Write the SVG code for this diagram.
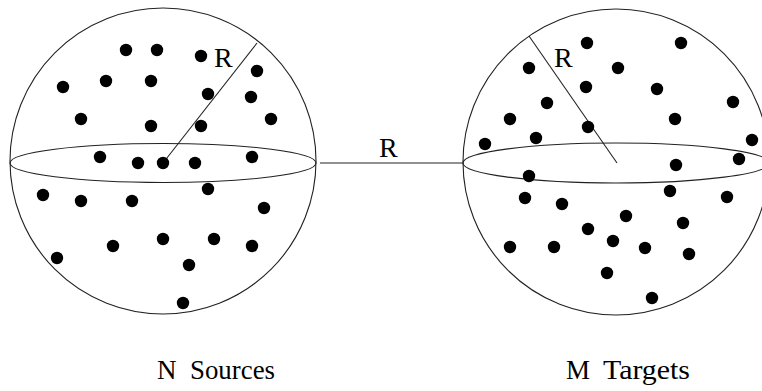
<svg xmlns="http://www.w3.org/2000/svg" width="762" height="391" viewBox="0 0 762 391">
<style>
.ln{fill:none;stroke:#222;stroke-width:1.1}
.d{fill:#000}
.t{font-family:"Liberation Serif","Times New Roman",serif;font-size:27px;fill:#000}
.r{font-family:"Liberation Serif","Times New Roman",serif;font-size:28px;fill:#000}
</style>
<defs><circle id="dot" r="6.2"/></defs>
<rect width="762" height="391" fill="#fff"/>
<g id="sources">
<circle class="ln" cx="163" cy="161" r="153"/>
<ellipse class="ln" cx="163" cy="163" rx="153" ry="19.5"/>
<line class="ln" x1="163" y1="163" x2="257" y2="43"/>
<text class="r" x="214" y="67">R</text>
<g class="d">
<use href="#dot" x="126" y="50"/><use href="#dot" x="157" y="50"/><use href="#dot" x="201" y="56"/>
<use href="#dot" x="63" y="87"/><use href="#dot" x="106" y="81"/><use href="#dot" x="151" y="81"/>
<use href="#dot" x="257" y="71"/><use href="#dot" x="208" y="94"/><use href="#dot" x="251" y="97"/>
<use href="#dot" x="81" y="119"/><use href="#dot" x="151" y="126"/><use href="#dot" x="201" y="126"/>
<use href="#dot" x="271" y="119"/><use href="#dot" x="100" y="157"/><use href="#dot" x="138" y="163"/>
<use href="#dot" x="163" y="163"/><use href="#dot" x="195" y="163"/><use href="#dot" x="252" y="157"/>
<use href="#dot" x="208" y="189"/><use href="#dot" x="43" y="195"/><use href="#dot" x="81" y="201"/>
<use href="#dot" x="132" y="201"/><use href="#dot" x="264" y="208"/><use href="#dot" x="113" y="246"/>
<use href="#dot" x="163" y="239"/><use href="#dot" x="214" y="239"/><use href="#dot" x="252" y="246"/>
<use href="#dot" x="57" y="258"/><use href="#dot" x="189" y="265"/><use href="#dot" x="183" y="303"/>
</g>
<text class="t" y="379"><tspan x="157">N</tspan><tspan x="190" textLength="85" lengthAdjust="spacingAndGlyphs">Sources</tspan></text>
</g>
<g id="targets">
<circle class="ln" cx="616" cy="162" r="153"/>
<ellipse class="ln" cx="616" cy="163" rx="153" ry="20"/>
<line class="ln" x1="617" y1="163" x2="529" y2="36"/>
<text class="r" x="554" y="67">R</text>
<g class="d">
<use href="#dot" x="587" y="43"/><use href="#dot" x="681" y="43"/><use href="#dot" x="529" y="68"/>
<use href="#dot" x="618" y="68"/><use href="#dot" x="586" y="87"/><use href="#dot" x="657" y="89"/>
<use href="#dot" x="733" y="102"/><use href="#dot" x="547" y="103"/><use href="#dot" x="510" y="119"/>
<use href="#dot" x="675" y="119"/><use href="#dot" x="588" y="127"/><use href="#dot" x="536" y="138"/>
<use href="#dot" x="485" y="144"/><use href="#dot" x="752" y="140"/><use href="#dot" x="739" y="159"/>
<use href="#dot" x="676" y="165"/><use href="#dot" x="529" y="176"/><use href="#dot" x="670" y="191"/>
<use href="#dot" x="525" y="198"/><use href="#dot" x="562" y="204"/><use href="#dot" x="727" y="197"/>
<use href="#dot" x="626" y="216"/><use href="#dot" x="683" y="223"/><use href="#dot" x="588" y="229"/>
<use href="#dot" x="510" y="247"/><use href="#dot" x="554" y="247"/><use href="#dot" x="613" y="241"/>
<use href="#dot" x="645" y="248"/><use href="#dot" x="689" y="254"/><use href="#dot" x="607" y="273"/>
<use href="#dot" x="652" y="298"/>
</g>
<text class="t" y="379"><tspan x="566">M</tspan><tspan x="603" textLength="87" lengthAdjust="spacingAndGlyphs">Targets</tspan></text>
</g>
<g id="connectors">
<line class="ln" x1="320" y1="163" x2="463" y2="163"/>
<text class="r" x="379" y="157">R</text>
</g>
</svg>
